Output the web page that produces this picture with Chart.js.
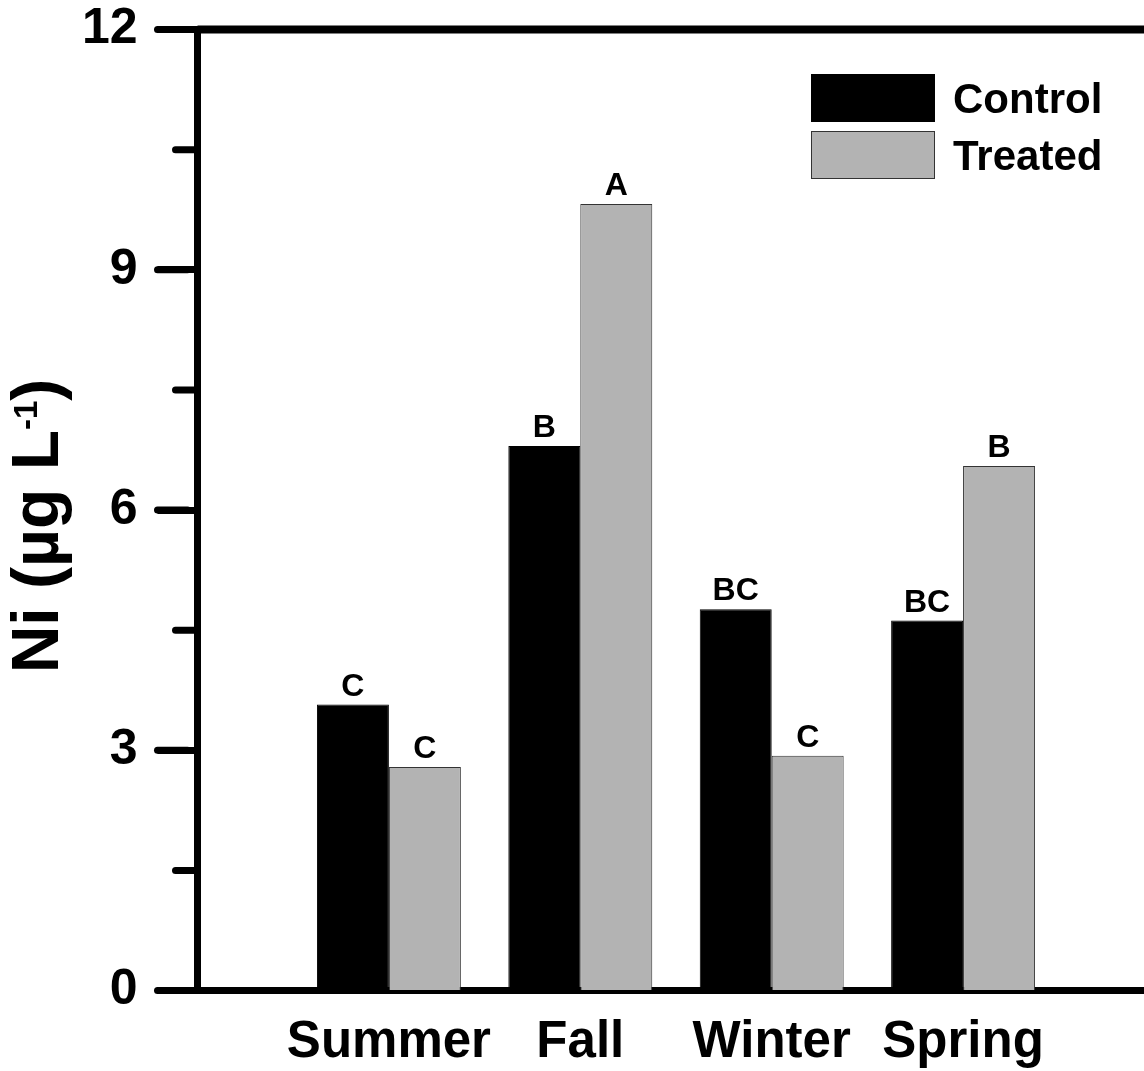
<!DOCTYPE html>
<html>
<head>
<meta charset="utf-8">
<script src="https://cdn.jsdelivr.net/npm/chart.js@4.4.1/dist/chart.umd.min.js"></script>
<style>
  html, body { margin: 0; padding: 0; overflow: hidden; background: #fff; }
  #wrap { width: 1190px; height: 1071px; }
</style>
</head>
<body>
<div id="wrap"><canvas id="chart" width="1190" height="1071"></canvas></div>
<script>
// Data
const seasons = ['Summer', 'Fall', 'Winter', 'Spring'];
const controlValues = [3.57, 6.80, 4.76, 4.62];
const treatedValues = [2.79, 9.82, 2.93, 6.55];
const controlLetters = ['C', 'B', 'BC', 'BC'];
const treatedLetters = ['C', 'A', 'C', 'B'];
const yMin = 0, yMax = 12, yStep = 3;

const FONT = "'Liberation Sans', Arial, Helvetica, sans-serif";

// target plot box (the original is cropped on the right)
const AREA_TOP = 29.5, AREA_RIGHT = 1154.5;

// empty slot on each side so the groups sit where the original puts them
const labels = ['', ...seasons, ''];
const pad = arr => [null, ...arr, null];

// letters above bars, tick caps, minor ticks, top frame line, legend, y title
const extras = {
    id: 'extras',
    afterDatasetsDraw(chart) {
        const ctx = chart.ctx;
        const letterSets = [controlLetters, treatedLetters];
        ctx.save();
        ctx.fillStyle = '#000';
        ctx.font = `bold 32px ${FONT}`;
        ctx.textAlign = 'center';
        ctx.textBaseline = 'alphabetic';
        chart.data.datasets.forEach((ds, d) => {
            const meta = chart.getDatasetMeta(d);
            meta.data.forEach((bar, i) => {
                if (ds.data[i] == null) return;
                ctx.fillText(letterSets[d][i - 1], bar.x, bar.y - 9);
            });
        });
        ctx.restore();
    },
    afterDraw(chart) {
        const ctx = chart.ctx;
        const area = chart.chartArea;
        const y = chart.scales.y;
        ctx.save();
        ctx.strokeStyle = '#000';

        // top frame line
        ctx.lineWidth = 8;
        ctx.beginPath();
        ctx.moveTo(area.left, area.top);
        ctx.lineTo(area.right + 10, area.top);
        ctx.stroke();

        ctx.lineCap = 'round';
        ctx.lineWidth = 7;
        // rounded outer ends on the major ticks
        y.ticks.forEach(t => {
            const py = y.getPixelForValue(t.value);
            ctx.beginPath();
            ctx.moveTo(area.left - 40, py);
            ctx.lineTo(area.left - 10, py);
            ctx.stroke();
        });
        // minor ticks halfway between major ones
        for (let v = yMin + yStep / 2; v < yMax; v += yStep) {
            const py = y.getPixelForValue(v);
            ctx.beginPath();
            ctx.moveTo(area.left - 22, py);
            ctx.lineTo(area.left, py);
            ctx.stroke();
        }
        ctx.lineCap = 'butt';

        // legend
        const lx = 811, ly = 74, bw = 124, bh = 48, gap = 57;
        chart.data.datasets.forEach((ds, d) => {
            const top = ly + d * gap;
            ctx.fillStyle = ds.backgroundColor;
            ctx.fillRect(lx, top, bw, bh);
            ctx.lineWidth = 1;
            ctx.strokeStyle = ds.borderColor;
            ctx.strokeRect(lx + 0.5, top + 0.5, bw - 1, bh - 1);
            ctx.fillStyle = '#000';
            ctx.font = `bold 42px ${FONT}`;
            ctx.textAlign = 'left';
            ctx.textBaseline = 'alphabetic';
            ctx.fillText(ds.label, 953, top + 39);
        });

        // y axis title with superscript
        const main = 'Ni (\u00b5g L', sup = '-1', close = ')';
        const fMain = `bold 66px ${FONT}`, fSup = `bold 33px ${FONT}`;
        ctx.font = fMain;
        const w1 = ctx.measureText(main).width;
        const w3 = ctx.measureText(close).width;
        ctx.font = fSup;
        const w2 = ctx.measureText(sup).width;
        const total = w1 + w2 + w3;
        ctx.translate(58, 526);
        ctx.rotate(-Math.PI / 2);
        ctx.fillStyle = '#000';
        ctx.textAlign = 'left';
        ctx.textBaseline = 'alphabetic';
        let x = -total / 2;
        ctx.font = fMain;
        ctx.fillText(main, x, 0);
        x += w1;
        ctx.font = fSup;
        ctx.fillText(sup, x, -21);
        x += w2;
        ctx.font = fMain;
        ctx.fillText(close, x, 0);
        ctx.restore();
    }
};

const chart = new Chart(document.getElementById('chart'), {
    type: 'bar',
    data: {
        labels: labels,
        datasets: [
            {
                label: 'Control',
                data: pad(controlValues),
                backgroundColor: '#000000',
                borderColor: '#000000',
                borderWidth: 1
            },
            {
                label: 'Treated',
                data: pad(treatedValues),
                backgroundColor: '#b3b3b3',
                borderColor: '#333333',
                borderWidth: 1
            }
        ]
    },
    options: {
        responsive: false,
        animation: false,
        devicePixelRatio: 1,
        layout: { padding: { top: 30, right: 35, left: 0, bottom: 0 } },
        datasets: {
            bar: { categoryPercentage: 0.752, barPercentage: 1.0, clip: false }
        },
        plugins: {
            legend: { display: false },
            tooltip: { enabled: false }
        },
        scales: {
            x: {
                offset: false,
                grid: { display: false, drawTicks: false },
                border: { display: true, color: '#000', width: 7 },
                ticks: {
                    autoSkip: false,
                    maxRotation: 0,
                    padding: 27,
                    color: '#000',
                    font: { family: FONT, size: 51, weight: 'bold', lineHeight: 1 }
                },
                afterFit(scale) {
                    scale.height = 80.5;
                    scale.paddingLeft = 0;
                    scale.paddingRight = 0;
                }
            },
            y: {
                min: yMin,
                max: yMax,
                grid: {
                    drawOnChartArea: false,
                    drawTicks: true,
                    tickLength: 40,
                    tickWidth: 7,
                    tickColor: '#000'
                },
                border: { display: true, color: '#000', width: 7 },
                ticks: {
                    stepSize: yStep,
                    padding: 20,
                    color: '#000',
                    font: { family: FONT, size: 50, weight: 'bold', lineHeight: 1 }
                },
                afterFit(scale) {
                    scale.width = 197.5;
                    scale.paddingTop = 0;
                    scale.paddingBottom = 0;
                }
            }
        }
    },
    plugins: [extras]
});

// nudge the layout padding so the plot box lands where the original has it
const p = chart.options.layout.padding;
p.top -= chart.chartArea.top - AREA_TOP;
p.right += chart.chartArea.right - AREA_RIGHT;
chart.update();
</script>
</body>
</html>
